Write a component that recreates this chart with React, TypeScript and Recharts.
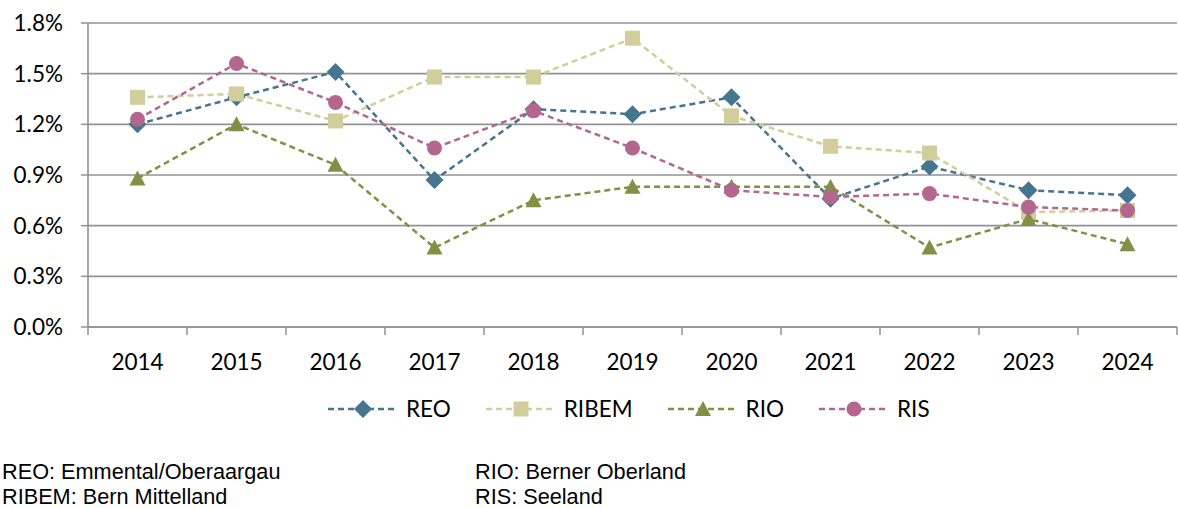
import React from "react";
import { LineChart, Line, XAxis, YAxis, CartesianGrid } from "recharts";

const years = ["2014", "2015", "2016", "2017", "2018", "2019", "2020", "2021", "2022", "2023", "2024"];
const reo = [1.2, 1.36, 1.51, 0.87, 1.29, 1.26, 1.36, 0.76, 0.95, 0.81, 0.78];
const ribem = [1.36, 1.38, 1.22, 1.48, 1.48, 1.71, 1.25, 1.07, 1.03, 0.68, 0.69];
const rio = [0.88, 1.2, 0.96, 0.47, 0.75, 0.83, 0.83, 0.83, 0.47, 0.64, 0.49];
const ris = [1.23, 1.56, 1.33, 1.06, 1.28, 1.06, 0.81, 0.77, 0.79, 0.71, 0.69];
const yTicks = [0, 0.3, 0.6, 0.9, 1.2, 1.5, 1.8];

const footnotes = [
  ["REO: Emmental/Oberaargau", "RIO: Berner Oberland"],
  ["RIBEM: Bern Mittelland", "RIS: Seeland"],
];

const data = years.map((year, i) => ({
  year,
  REO: reo[i],
  RIBEM: ribem[i],
  RIO: rio[i],
  RIS: ris[i],
}));

const AXIS_FONT = "Lato, 'Open Sans', sans-serif";
const GRID = "#929292";

type Shape = "diamond" | "square" | "triangle" | "circle";

const series: { key: string; color: string; shape: Shape }[] = [
  { key: "REO", color: "#46758F", shape: "diamond" },
  { key: "RIBEM", color: "#D1CE9B", shape: "square" },
  { key: "RIO", color: "#848F46", shape: "triangle" },
  { key: "RIS", color: "#B3678F", shape: "circle" },
];

const Marker = ({ shape, cx, cy, color }: { shape: Shape; cx: number; cy: number; color: string }) => {
  if (shape === "diamond") {
    const r = 9;
    return <polygon points={`${cx},${cy - r} ${cx + r},${cy} ${cx},${cy + r} ${cx - r},${cy}`} fill={color} />;
  }
  if (shape === "square") {
    return <rect x={cx - 7.5} y={cy - 7.5} width={15} height={15} fill={color} />;
  }
  if (shape === "triangle") {
    return <polygon points={`${cx},${cy - 8} ${cx + 8},${cy + 7} ${cx - 8},${cy + 7}`} fill={color} />;
  }
  return <circle cx={cx} cy={cy} r={7.5} fill={color} />;
};

const makeDot = (shape: Shape, color: string) => (props: any) => {
  const { cx, cy, index } = props;
  if (cx == null || cy == null) return <g key={index} />;
  return (
    <g key={index}>
      <Marker shape={shape} cx={cx} cy={cy} color={color} />
    </g>
  );
};

const YearTick = (props: any) => {
  const { x, y, payload } = props;
  const half = payload.offset ?? 0;
  const last = payload.value === years[years.length - 1];
  return (
    <g>
      <line x1={x - half} x2={x - half} y1={y} y2={y + 8} stroke={GRID} strokeWidth={1.5} />
      {last && <line x1={x + half} x2={x + half} y1={y} y2={y + 8} stroke={GRID} strokeWidth={1.5} />}
      <text x={x} y={y} dy={43} textAnchor="middle" fill="#000" fontFamily={AXIS_FONT} fontSize={22.5}>
        {payload.value}
      </text>
    </g>
  );
};

const LegendRow = () => (
  <div
    style={{
      position: "absolute",
      left: 328,
      top: 398,
      display: "flex",
      alignItems: "center",
      fontFamily: AXIS_FONT,
      fontSize: 22.5,
      color: "#000",
    }}
  >
    {series.map((s) => (
      <div key={s.key} style={{ display: "flex", alignItems: "center", marginRight: 35 }}>
        <svg width={70} height={22}>
          <line x1={0} x2={70} y1={11} y2={11} stroke={s.color} strokeWidth={2.5} strokeDasharray="6 4" />
          <Marker shape={s.shape} cx={35} cy={11} color={s.color} />
        </svg>
        <span style={{ marginLeft: 8, lineHeight: "22px" }}>{s.key}</span>
      </div>
    ))}
  </div>
);

export default function App() {
  return (
    <div style={{ position: "absolute", left: 0, top: 0, width: 1178, height: 508, background: "#fff" }}>
      <LineChart width={1178} height={380} data={data} margin={{ top: 23, right: 1, left: 0, bottom: 0 }}>
        <CartesianGrid vertical={false} stroke={GRID} strokeWidth={1.6} />
        <XAxis
          dataKey="year"
          scale="band"
          height={53}
          axisLine={{ stroke: GRID, strokeWidth: 1.6 }}
          tickLine={false}
          tickSize={0}
          tickMargin={0}
          interval={0}
          tick={<YearTick />}
        />
        <YAxis
          width={88}
          domain={[0, 1.8]}
          ticks={yTicks}
          interval={0}
          axisLine={{ stroke: GRID, strokeWidth: 1.6 }}
          tickLine={{ stroke: GRID, strokeWidth: 1.5 }}
          tickSize={7}
          tickMargin={18}
          tickFormatter={(v: number) => `${v.toFixed(1)}%`}
          tick={{ fill: "#000", fontFamily: AXIS_FONT, fontSize: 22.5 }}
        />
        {series.map((s) => (
          <Line
            key={s.key}
            dataKey={s.key}
            stroke={s.color}
            strokeWidth={2.5}
            strokeDasharray="6 4"
            dot={makeDot(s.shape, s.color)}
            activeDot={false}
            isAnimationActive={false}
          />
        ))}
      </LineChart>
      <LegendRow />
      {footnotes.map((row, r) => (
        <div
          key={r}
          style={{
            position: "absolute",
            top: 459 + r * 25,
            left: 0,
            width: 1178,
            fontFamily: "'Liberation Sans', Arial, sans-serif",
            fontSize: 21.7,
            lineHeight: "25px",
            color: "#000",
          }}
        >
          <span style={{ position: "absolute", left: 2 }}>{row[0]}</span>
          <span style={{ position: "absolute", left: 475 }}>{row[1]}</span>
        </div>
      ))}
    </div>
  );
}
